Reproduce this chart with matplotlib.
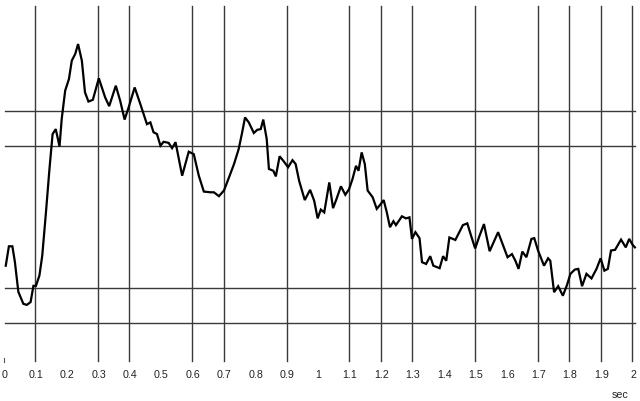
import matplotlib
matplotlib.use('Agg')
import matplotlib.pyplot as plt

# signal trace (time in sec, amplitude in grid units)
t = [0.007, 0.017, 0.028, 0.036, 0.047, 0.063, 0.074, 0.086, 0.095, 0.103,
     0.114, 0.123, 0.134, 0.146, 0.156, 0.166, 0.178, 0.185, 0.196, 0.208,
     0.217, 0.228, 0.237, 0.249, 0.259, 0.270, 0.284, 0.303, 0.323, 0.336,
     0.357, 0.371, 0.385, 0.398, 0.417, 0.435, 0.456, 0.467, 0.477, 0.488,
     0.499, 0.509, 0.525, 0.536, 0.547, 0.568, 0.589, 0.605, 0.621, 0.637,
     0.658, 0.669, 0.685, 0.701, 0.717, 0.733, 0.748, 0.759, 0.768, 0.780,
     0.796, 0.807, 0.818, 0.826, 0.837, 0.844, 0.858, 0.866, 0.878, 0.890,
     0.905, 0.919, 0.929, 0.940, 0.958, 0.975, 0.988, 0.999, 1.009, 1.020,
     1.036, 1.048, 1.059, 1.073, 1.087, 1.099, 1.110, 1.121, 1.129, 1.139,
     1.149, 1.158, 1.174, 1.187, 1.200, 1.209, 1.219, 1.229, 1.240, 1.248,
     1.267, 1.280, 1.291, 1.299, 1.310, 1.323, 1.331, 1.344, 1.357, 1.367,
     1.387, 1.398, 1.408, 1.418, 1.437, 1.461, 1.475, 1.487, 1.500, 1.514,
     1.528, 1.546, 1.573, 1.589, 1.603, 1.617, 1.628, 1.638, 1.650, 1.663,
     1.679, 1.688, 1.700, 1.719, 1.732, 1.739, 1.751, 1.764, 1.779, 1.792,
     1.803, 1.817, 1.828, 1.840, 1.854, 1.870, 1.886, 1.899, 1.911, 1.922,
     1.932, 1.945, 1.964, 1.979, 1.990, 2.001, 2.008]
v = [-1.38, -0.83, -0.83, -1.27, -2.12, -2.46, -2.49, -2.41, -1.95, -1.95,
     -1.66, -1.10, 0.04, 1.36, 2.35, 2.49, 2.00, 2.78, 3.58, 3.91,
     4.43, 4.62, 4.90, 4.43, 3.53, 3.27, 3.32, 3.93, 3.39, 3.14,
     3.72, 3.29, 2.76, 3.11, 3.67, 3.20, 2.63, 2.68, 2.40, 2.35,
     2.02, 2.13, 2.10, 1.95, 2.12, 1.17, 1.85, 1.78, 1.17, 0.72,
     0.70, 0.70, 0.59, 0.75, 1.12, 1.50, 1.93, 2.40, 2.82, 2.68,
     2.38, 2.47, 2.49, 2.76, 2.21, 1.36, 1.31, 1.15, 1.72, 1.59,
     1.41, 1.61, 1.50, 1.03, 0.48, 0.77, 0.46, -0.04, 0.21, 0.13,
     0.98, 0.25, 0.51, 0.87, 0.63, 0.79, 1.08, 1.45, 1.31, 1.83,
     1.50, 0.75, 0.56, 0.23, 0.37, 0.48, 0.13, -0.29, -0.12, -0.23,
     0.02, -0.04, -0.01, -0.62, -0.43, -0.60, -1.28, -1.33, -1.11, -1.38,
     -1.45, -1.11, -1.24, -0.58, -0.65, -0.23, -0.18, -0.53, -0.89, -0.53,
     -0.20, -0.97, -0.43, -0.81, -1.14, -1.05, -1.24, -1.47, -0.98, -1.14,
     -0.62, -0.60, -0.95, -1.38, -1.17, -1.24, -2.13, -1.96, -2.23, -1.93,
     -1.61, -1.49, -1.47, -1.96, -1.61, -1.74, -1.47, -1.17, -1.52, -1.47,
     -0.95, -0.93, -0.64, -0.86, -0.62, -0.79, -0.86]

vlines = [0.1, 0.3, 0.4, 0.6, 0.7, 0.9, 1.1, 1.2, 1.3, 1.5, 1.7, 1.8, 1.9, 2.0]
hlines = [3, 2, -2, -3]
tick_vals = [i / 10 for i in range(21)]

fig = plt.figure(figsize=(6.4, 4.02), dpi=100, facecolor='white')
ax = fig.add_axes([0, 0, 1, 1])
ax.set_xlim(-0.01132, 2.0243)
ax.set_ylim(-5.2125, 6.1756)
ax.axis('off')

for x in vlines:
    ax.plot([x, x], [-4.08, 5.98], color='#3a3a3a', lw=1.0, zorder=1)
for y in hlines:
    ax.plot([0.005, 2.008], [y, y], color='#3a3a3a', lw=1.0, zorder=1)
ax.plot([0, 0], [-3.99, -4.11], color='#555555', lw=0.8)

ax.plot(t, v, color='black', lw=1.6, zorder=3, solid_joinstyle='miter')

for tv in tick_vals:
    ax.text(tv + 0.002, -4.448, f'{tv:g}', ha='center', va='center',
            fontsize=7.7, color='#222222', family='Liberation Sans')
ax.text(1.9607, -5.014, 'sec', ha='center', va='center',
        fontsize=7.7, color='#222222', family='Liberation Sans')

fig.savefig('out.png', dpi=100, facecolor='white')
